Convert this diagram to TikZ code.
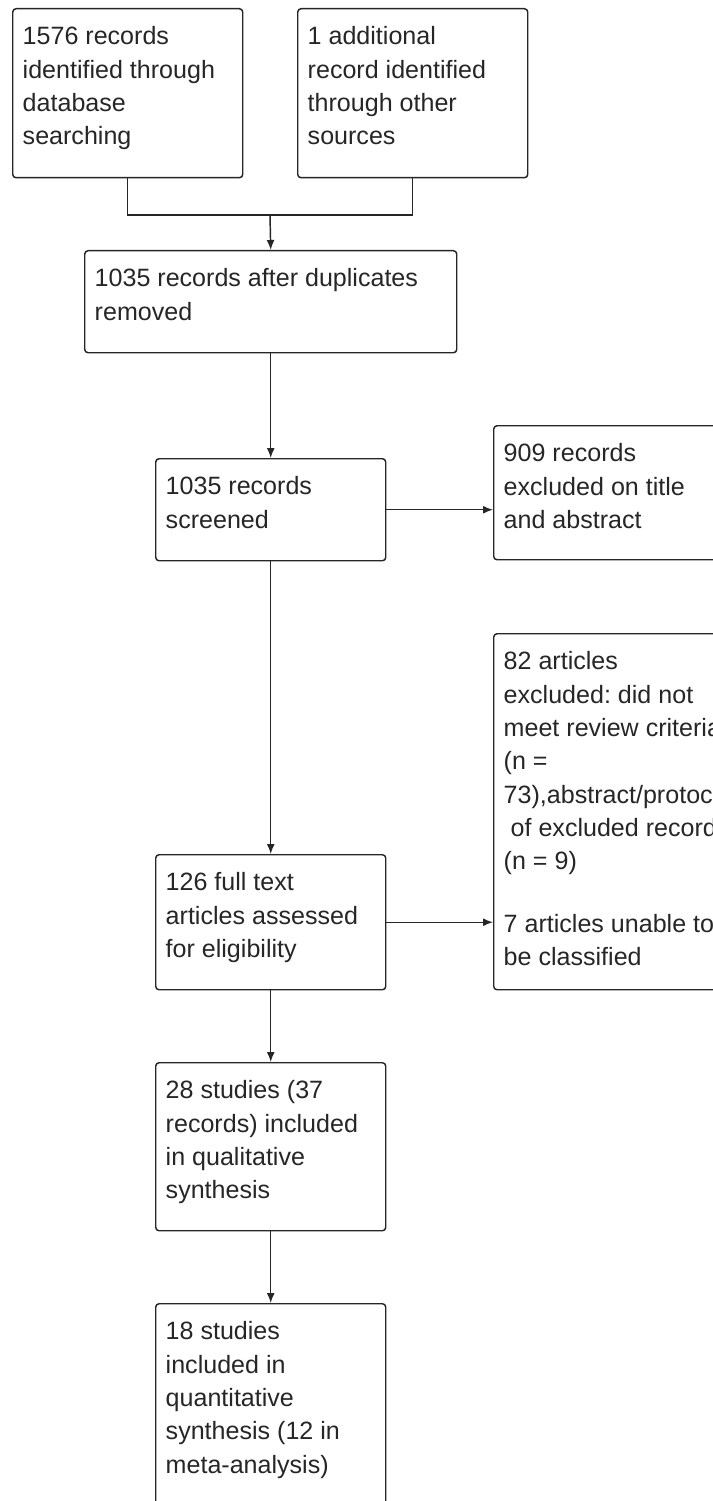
\documentclass[tikz,border=0pt]{standalone}
\usepackage{fontspec}
\setmainfont{Liberation Sans}
\usetikzlibrary{arrows.meta, positioning}
\frenchspacing

\begin{document}
\begin{tikzpicture}[x=0.75pt, y=-0.75pt, line width=1.1pt,
	font=\fontsize{18.8}{25}\selectfont,
	box/.style={draw=black!85, rounded corners=2.5pt, anchor=north west, inner sep=0pt},
	txt/.style={anchor=north west, align=left, inner sep=0pt, text=black!85},
	flecha/.style={-{Latex[length=7.5pt, width=6pt]}, draw=black!85}]
	\useasboundingbox (0,0) rectangle (713,1501);
	\clip (0,0) rectangle (713,1501);

	\foreach \n/\x/\y/\w/\h/\t in {
		ident/12/8/230/169/{1576 records\\identified through\\database\\searching},
		extra/297/8/230/169/{1 additional\\record identified\\through other\\sources},
		dupl/84/250/372/102/{1035 records after duplicates\\removed},
		scrn/155/458/230/102/{1035 records\\screened},
		excl/493/425/230/134/{909 records\\excluded on title\\and abstract},
		elig/155/854/230/135/{126 full text\\articles assessed\\for eligibility},
		rej/493/633/230/356/{82 articles\\excluded: did not\\meet review criteria\\(n =\\73),abstract/protocol\\~of excluded records\\(n = 9)\\[22pt]7 articles unable to\\be classified},
		qual/155/1062/230/168/{28 studies (37\\records) included\\in qualitative\\synthesis},
		quant/155/1303/230/240/{18 studies\\included in\\quantitative\\synthesis (12 in\\meta-analysis)}}{
		\node[box, minimum width=\w*0.75pt, minimum height=\h*0.75pt] (\n) at (\x,\y) {};
		\node[txt] (\n-txt) at ([shift={(10,18)}]\n.north west) {\t};
	}

	\coordinate (junta) at (270,215);
	\draw[draw=black!85] (ident.south) |- (junta) -| (extra.south);
	\draw[flecha] (junta) -- (dupl.north);
	\draw[flecha] (dupl.south) -- (scrn.north);
	\draw[flecha] (scrn.east) -- (scrn.east -| excl.west);
	\draw[flecha] (scrn.south) -- (elig.north);
	\draw[flecha] (elig.east) -- (elig.east -| rej.west);
	\draw[flecha] (elig.south) -- (qual.north);
	\draw[flecha] (qual.south) -- (quant.north);
\end{tikzpicture}
\end{document}
